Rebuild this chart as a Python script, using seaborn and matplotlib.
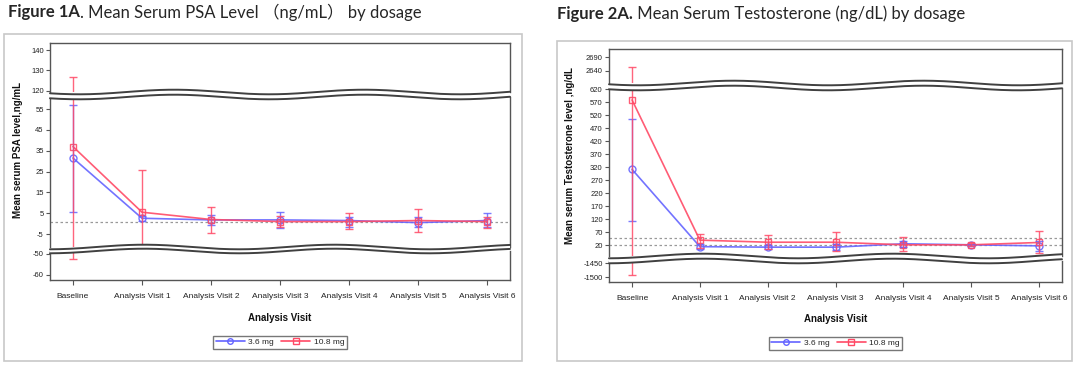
import numpy as np
import pandas as pd
import matplotlib
matplotlib.use('Agg')
import matplotlib.pyplot as plt
from matplotlib.lines import Line2D
from matplotlib.patches import Rectangle, Polygon
import seaborn as sns

visits = ['Baseline', 'Analysis Visit 1', 'Analysis Visit 2', 'Analysis Visit 3',
          'Analysis Visit 4', 'Analysis Visit 5', 'Analysis Visit 6']
doses = ['3.6 mg', '10.8 mg']

# Figure 1A - PSA (ng/mL)
psa_36_mean = [31.5, 2.6, 1.8, 1.8, 1.5, 0.5, 1.5]
psa_36_low = [5.8, 1.5, -0.6, -1.9, -1.4, -1.4, -1.8]
psa_36_high = [56.8, 3.8, 4.2, 5.5, 3.4, 3.4, 5.0]
psa_108_mean = [37.0, 5.5, 2.0, 1.0, 1.0, 1.5, 1.0]
psa_108_low = [-52.4, -15.0, -4.7, -1.4, -2.7, -4.1, -1.9]
psa_108_high = [126.7, 26.0, 7.9, 3.7, 5.3, 7.0, 3.4]
psa_ref = [1]

# Figure 2A - testosterone (ng/dL)
t_36_mean = [312, 15, 13, 13, 26, 22, 18]
t_36_low = [115, 5, 5, 1, 14, 17, 0]
t_36_high = [507, 25, 21, 27, 36, 27, 36]
t_108_mean = [579, 40, 32, 32, 22, 22, 31]
t_108_low = [-1492, 8, 4, -2, 0, 17, -11]
t_108_high = [2655, 65, 59, 71, 51, 28, 74]
t_ref = [20, 50]

W, H = 1080, 365
BLUE = '#6464ff'
RED = '#ff4a66'
palette = {'3.6 mg': BLUE, '10.8 mg': RED}
markers = {'3.6 mg': 'o', '10.8 mg': 's'}

sns.set_theme(style='white')
plt.rcParams['font.family'] = ['Liberation Sans', 'DejaVu Sans']
TITLE_FONT = ['Lato', 'Noto Sans CJK SC', 'DejaVu Sans']

fig = plt.figure(figsize=(10.8, 3.65), dpi=100)


def rect(x0, x1, ytop, ybot):
    return [x0 / W, 1 - ybot / H, (x1 - x0) / W, (ybot - ytop) / H]


def make_df(m36, m108):
    return pd.DataFrame({
        'pos': list(range(len(visits))) * 2,
        'value': m36 + m108,
        'dose': [doses[0]] * len(visits) + [doses[1]] * len(visits),
    })


def wave_break(x0, x1, y_up, y_dn, amp, period, phase):
    xs = np.linspace(x0, x1, 300)
    s = amp * np.sin(2 * np.pi * (xs - x0) / period + phase)
    up = y_up + s
    dn = y_dn + s
    pts = np.column_stack([np.r_[xs, xs[::-1]] / W, 1 - np.r_[up, dn[::-1]] / H])
    fig.add_artist(Polygon(pts, closed=True, transform=fig.transFigure,
                           fc='white', ec='none', zorder=5))
    for yy in (up, dn):
        fig.add_artist(Line2D(xs / W, 1 - yy / H, transform=fig.transFigure,
                              color='#404040', lw=1.4, zorder=6))


def draw_panel(x0, x1, sections, df, lows, highs, refs, margin):
    axes = []
    n = len(sections)
    for i, (ytop, ybot, lim, ticks) in enumerate(sections):
        ax = fig.add_axes(rect(x0, x1, ytop, ybot))
        for r in refs:
            ax.axhline(r, color='#999999', ls=(0, (2, 2)), lw=0.9, zorder=0)
        sns.lineplot(data=df, x='pos', y='value', hue='dose', style='dose',
                     palette=palette, markers=markers, dashes=False,
                     errorbar=None, legend=False, ax=ax,
                     linewidth=1.2, markersize=5, alpha=0.9)
        for line in ax.get_lines()[len(refs):]:
            line.set_markerfacecolor('none')
            line.set_markeredgecolor(line.get_color())
            line.set_markeredgewidth(1)
        for d in doses:
            sub = df[df['dose'] == d]
            v = sub['value'].to_numpy()
            ax.errorbar(sub['pos'], v, yerr=[v - np.array(lows[d]), np.array(highs[d]) - v],
                        fmt='none', ecolor=palette[d], elinewidth=1, capsize=3,
                        capthick=1, alpha=0.85)
        ax.set_xlim(-margin, len(visits) - 1 + margin)
        ax.set_ylim(lim)
        ax.set_yticks(ticks)
        ax.set_yticklabels([str(t) for t in ticks])
        ax.set_xlabel('')
        ax.set_ylabel('')
        ax.tick_params(axis='y', left=True, length=3, width=0.8, color='#555555',
                       labelsize=5.5, pad=1.5, labelcolor='#222222')
        for sp in ax.spines.values():
            sp.set_color('#555555')
            sp.set_linewidth(1)
        if i > 0:
            ax.spines['top'].set_visible(False)
        if i < n - 1:
            ax.spines['bottom'].set_visible(False)
            ax.tick_params(axis='x', bottom=False, labelbottom=False)
        else:
            ax.set_xticks(range(len(visits)))
            ax.set_xticklabels(visits)
            ax.tick_params(axis='x', bottom=True, length=3.5, width=0.8, color='#555555',
                           labelsize=6, pad=5.5, labelcolor='#222222')
        axes.append(ax)
    for i in range(n - 1):
        wave_break(x0, x1, sections[i][1], sections[i + 1][0], 2.3, 190, 0.6 + i)
    return axes


# outer boxes
fig.add_artist(Rectangle((4 / W, 1 - 361 / H), 518 / W, 327 / H, transform=fig.transFigure,
                         fill=False, ec='#c8c8c8', lw=1.2))
fig.add_artist(Rectangle((557 / W, 1 - 361 / H), 515 / W, 320 / H, transform=fig.transFigure,
                         fill=False, ec='#c8c8c8', lw=1.2))

# left panel: PSA
psa_sections = [
    (43.3, 92, (119.4, 143.3), [120, 130, 140]),
    (97, 247, (-11.2, 60.8), [-5, 5, 15, 25, 35, 45, 55]),
    (251, 280, (-62.4, -48.6), [-60, -50]),
]
draw_panel(50, 510, psa_sections, make_df(psa_36_mean, psa_108_mean),
           {'3.6 mg': psa_36_low, '10.8 mg': psa_108_low},
           {'3.6 mg': psa_36_high, '10.8 mg': psa_108_high}, psa_ref, 0.333)

# right panel: testosterone
t_sections = [
    (49, 83, (2594, 2721), [2640, 2690]),
    (88, 256, (-21, 625), list(range(20, 621, 50))),
    (261, 282, (-1516.8, -1442), [-1500, -1450]),
]
draw_panel(609, 1062, t_sections, make_df(t_36_mean, t_108_mean),
           {'3.6 mg': t_36_low, '10.8 mg': t_108_low},
           {'3.6 mg': t_36_high, '10.8 mg': t_108_high}, t_ref, 0.34)

# axis labels
lab = dict(fontsize=7, fontweight='bold', color='#111111', ha='center', va='center')
fig.text(18 / W, 1 - 150 / H, 'Mean serum PSA level,ng/mL', rotation=90, **lab)
fig.text(570 / W, 1 - 156 / H, 'Mean serum Testosterone level ,ng/dL', rotation=90, **lab)
fig.text(280 / W, 1 - 318 / H, 'Analysis Visit', **lab)
fig.text(835.5 / W, 1 - 319 / H, 'Analysis Visit', **lab)

# legends
handles = [Line2D([], [], color=palette[d], marker=markers[d], mfc='none', mec=palette[d],
                  ms=4, lw=1.2) for d in doses]
for cx, cy in [(280, 342.5), (835.5, 343.5)]:
    leg = fig.legend(handles, doses, loc='center', bbox_to_anchor=(cx / W, 1 - cy / H),
                     ncol=2, fontsize=6, frameon=True, fancybox=False, handlelength=3.5,
                     handletextpad=0.4, columnspacing=0.9, borderpad=0.3)
    leg.get_frame().set_edgecolor('#555555')
    leg.get_frame().set_linewidth(1)


# titles: bold prefix + regular remainder
def title(x, y, bold, rest):
    t = fig.text(x / W, 1 - y / H, bold, fontsize=12, fontweight='bold',
                 family=TITLE_FONT, va='center', ha='left')
    fig.canvas.draw()
    bb = t.get_window_extent()
    fig.text(bb.x1 / W, 1 - y / H, rest, fontsize=12, family=TITLE_FONT,
             va='center', ha='left')


title(8, 12, 'Figure 1A', '. Mean Serum PSA Level （ng/mL） by dosage')
title(557, 14, 'Figure 2A.', ' Mean Serum Testosterone (ng/dL) by dosage')

fig.savefig('out.png', dpi=100)
